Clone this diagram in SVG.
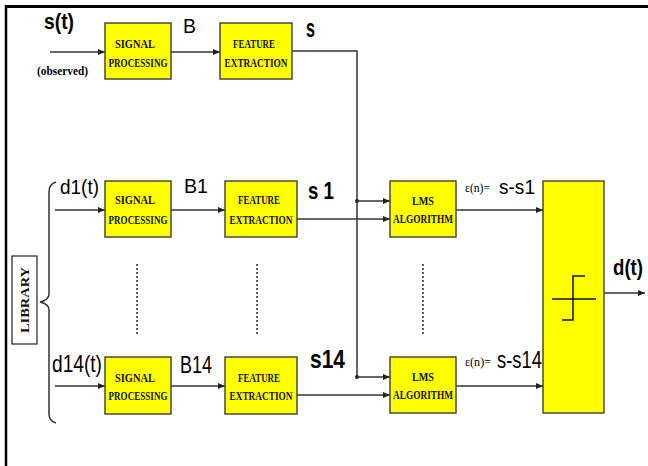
<svg xmlns="http://www.w3.org/2000/svg" width="648" height="466" viewBox="0 0 648 466">
<defs>
<marker id="ah" markerWidth="7" markerHeight="6" refX="7" refY="3" orient="auto" markerUnits="userSpaceOnUse">
<path d="M0,0 L7,3 L0,6 Z" fill="#222"/>
</marker>
<style>
.box{fill:#ffff00;stroke:#4a4a3a;stroke-width:1.5}
.bt{font-family:"Liberation Serif",serif;font-weight:bold;font-size:13.5px;fill:#111;text-anchor:middle}
.lbl{font-family:"Liberation Sans",Arial,sans-serif;fill:#000}
.b{font-weight:bold}
.eps{font-family:"Liberation Serif",serif;font-size:13px;fill:#000}
.ln{fill:none;stroke:#333;stroke-width:1.5}
.ar{fill:none;stroke:#333;stroke-width:1.5;marker-end:url(#ah)}
.dot{fill:none;stroke:#333;stroke-width:1.5;stroke-dasharray:2,2}
</style>
</defs>
<rect width="648" height="466" fill="#fff"/>
<line x1="5" y1="6.5" x2="648" y2="6.5" stroke="#000" stroke-width="3"/>
<line x1="6" y1="5" x2="6" y2="466" stroke="#000" stroke-width="2.5"/>

<g id="connectors">
<line class="ar" x1="50" y1="52" x2="105" y2="52"/>
<line class="ar" x1="171" y1="52" x2="220" y2="52"/>
<polyline class="ln" points="292,51 357,51 357,377"/>
<circle cx="357" cy="201" r="2" fill="#222"/>
<circle cx="357" cy="377" r="2" fill="#222"/>
<line class="ar" x1="55" y1="210" x2="105" y2="210"/>
<line class="ar" x1="171" y1="210" x2="225" y2="210"/>
<line class="ar" x1="297" y1="219" x2="390" y2="219"/>
<line class="ar" x1="357" y1="201" x2="390" y2="201"/>
<line class="ar" x1="456" y1="210" x2="543" y2="210"/>
<line class="ar" x1="55" y1="386" x2="105" y2="386"/>
<line class="ar" x1="171" y1="386" x2="225" y2="386"/>
<line class="ar" x1="297" y1="395" x2="390" y2="395"/>
<line class="ar" x1="357" y1="377" x2="390" y2="377"/>
<line class="ar" x1="456" y1="386" x2="543" y2="386"/>
<line class="ar" x1="604" y1="293" x2="645" y2="293"/>
<line class="dot" x1="137" y1="264" x2="137" y2="335"/>
<line class="dot" x1="257" y1="264" x2="257" y2="335"/>
<line class="dot" x1="423" y1="264" x2="423" y2="335"/>
<path class="ln" d="M56,182 Q49,184 49,192 L49,294 Q49,300 40,302 Q49,304 49,310 L49,414 Q49,421 56,423" stroke-width="1.3"/>
</g>

<g id="sp0"><rect class="box" x="105" y="23" width="66" height="56"/>
<text class="bt" x="135" y="48" textLength="40" lengthAdjust="spacingAndGlyphs">SIGNAL</text>
<text class="bt" x="138" y="67" textLength="59" lengthAdjust="spacingAndGlyphs">PROCESSING</text></g>
<g id="fe0"><rect class="box" x="220" y="23" width="72" height="56"/>
<text class="bt" x="254" y="48" textLength="42" lengthAdjust="spacingAndGlyphs">FEATURE</text>
<text class="bt" x="256" y="67" textLength="63" lengthAdjust="spacingAndGlyphs">EXTRACTION</text></g>

<g id="sp1"><rect class="box" x="105" y="181" width="66" height="56"/>
<text class="bt" x="135" y="204" textLength="40" lengthAdjust="spacingAndGlyphs">SIGNAL</text>
<text class="bt" x="138" y="224" textLength="59" lengthAdjust="spacingAndGlyphs">PROCESSING</text></g>
<g id="fe1"><rect class="box" x="225" y="181" width="72" height="56"/>
<text class="bt" x="259" y="204" textLength="42" lengthAdjust="spacingAndGlyphs">FEATURE</text>
<text class="bt" x="261" y="224" textLength="63" lengthAdjust="spacingAndGlyphs">EXTRACTION</text></g>
<g id="lms1"><rect class="box" x="390" y="181" width="66" height="56"/>
<text class="bt" x="423" y="205" textLength="22" lengthAdjust="spacingAndGlyphs">LMS</text>
<text class="bt" x="423" y="223" textLength="60" lengthAdjust="spacingAndGlyphs">ALGORITHM</text></g>

<g id="sp14"><rect class="box" x="105" y="357" width="66" height="57"/>
<text class="bt" x="135" y="382" textLength="40" lengthAdjust="spacingAndGlyphs">SIGNAL</text>
<text class="bt" x="138" y="400" textLength="59" lengthAdjust="spacingAndGlyphs">PROCESSING</text></g>
<g id="fe14"><rect class="box" x="225" y="357" width="72" height="57"/>
<text class="bt" x="259" y="382" textLength="42" lengthAdjust="spacingAndGlyphs">FEATURE</text>
<text class="bt" x="261" y="400" textLength="63" lengthAdjust="spacingAndGlyphs">EXTRACTION</text></g>
<g id="lms14"><rect class="box" x="390" y="357" width="66" height="56"/>
<text class="bt" x="423" y="381" textLength="22" lengthAdjust="spacingAndGlyphs">LMS</text>
<text class="bt" x="423" y="399" textLength="60" lengthAdjust="spacingAndGlyphs">ALGORITHM</text></g>

<g id="decision"><rect class="box" x="543" y="181" width="61" height="232"/>
<polyline fill="none" stroke="#111" stroke-width="1.5" points="552,299 596,299"/>
<polyline fill="none" stroke="#111" stroke-width="1.5" points="562,320 573,320 573,276 585,276"/></g>

<g id="library"><rect x="12" y="256" width="25" height="88" fill="#fff" stroke="#333" stroke-width="1.3"/>
<text class="bt" transform="translate(28.5,300) rotate(-90)" font-size="11" textLength="66" lengthAdjust="spacingAndGlyphs">LIBRARY</text></g>

<g id="labels">
<text class="lbl b" x="44" y="29" font-size="22" textLength="30" lengthAdjust="spacingAndGlyphs">s(t)</text>
<text class="eps" x="37" y="75" font-weight="bold" textLength="51" lengthAdjust="spacingAndGlyphs">(observed)</text>
<text class="lbl" x="183" y="33" font-size="21" textLength="13" lengthAdjust="spacingAndGlyphs">B</text>
<text class="lbl b" x="306" y="37" font-size="25" textLength="9" lengthAdjust="spacingAndGlyphs">s</text>
<text class="lbl" x="60" y="194" font-size="21" textLength="39" lengthAdjust="spacingAndGlyphs">d1(t)</text>
<text class="lbl" x="184" y="193" font-size="21" textLength="24" lengthAdjust="spacingAndGlyphs">B1</text>
<text class="lbl b" x="308" y="199" font-size="24" textLength="26" lengthAdjust="spacingAndGlyphs">s 1</text>
<text class="eps" x="465" y="192" textLength="25" lengthAdjust="spacingAndGlyphs">ε(n)=</text>
<text class="lbl" x="499" y="194" font-size="21" textLength="36" lengthAdjust="spacingAndGlyphs">s-s1</text>
<text class="lbl" x="52" y="372" font-size="24" textLength="50" lengthAdjust="spacingAndGlyphs">d14(t)</text>
<text class="lbl" x="180" y="373" font-size="23" textLength="32" lengthAdjust="spacingAndGlyphs">B14</text>
<text class="lbl b" x="310" y="368" font-size="25" textLength="35" lengthAdjust="spacingAndGlyphs">s14</text>
<text class="eps" x="465" y="366" textLength="26" lengthAdjust="spacingAndGlyphs">ε(n)=</text>
<text class="lbl" x="497" y="368" font-size="23" textLength="45" lengthAdjust="spacingAndGlyphs">s-s14</text>
<text class="lbl b" x="613" y="275" font-size="22" textLength="30" lengthAdjust="spacingAndGlyphs">d(t)</text>
</g>
</svg>
